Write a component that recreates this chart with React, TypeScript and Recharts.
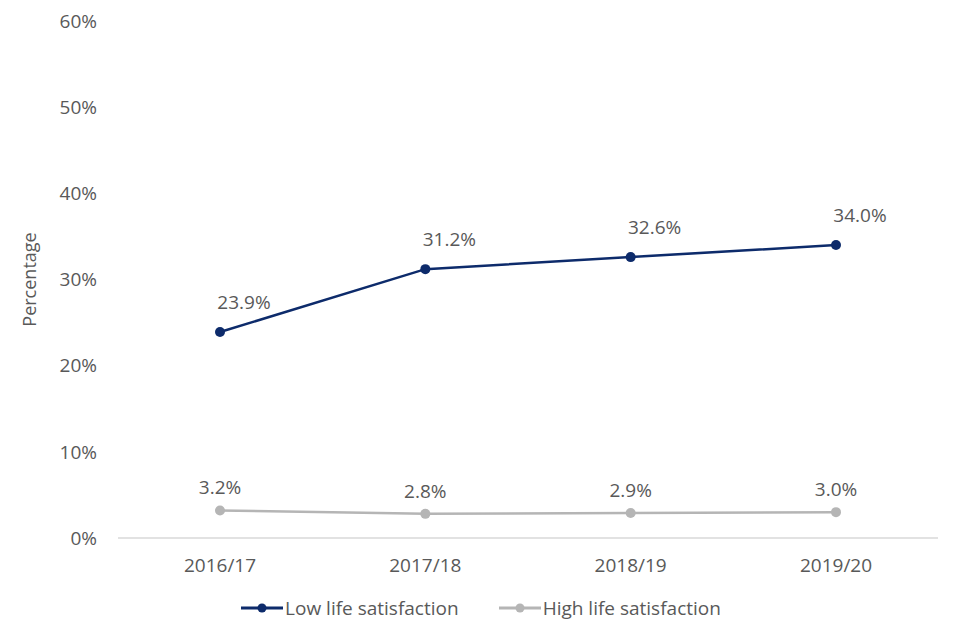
import React from 'react';
import { LineChart, Line, XAxis, YAxis, Legend, LabelList } from 'recharts';

const years = ['2016/17', '2017/18', '2018/19', '2019/20'];
const lowSatisfaction = [23.9, 31.2, 32.6, 34.0];
const highSatisfaction = [3.2, 2.8, 2.9, 3.0];
const yTicks = [0, 10, 20, 30, 40, 50, 60];

const LOW_COLOR = '#0d2b6b';
const HIGH_COLOR = '#b5b5b5';
const TEXT_COLOR = '#595959';
const FONT = '"Open Sans", "Noto Sans", sans-serif';

const data = years.map((year, i) => ({
  year,
  low: lowSatisfaction[i],
  high: highSatisfaction[i],
}));

const makeLabel = (dx: number, dy: number) => (props: any) => {
  const { x, y, value } = props;
  return (
    <text
      x={x + dx}
      y={y + dy}
      textAnchor="middle"
      fill={TEXT_COLOR}
      fontSize={19}
      fontFamily={FONT}
    >
      {Number(value).toFixed(1)}%
    </text>
  );
};

const LegendContent = () => {
  const items = [
    { name: 'Low life satisfaction', color: LOW_COLOR },
    { name: 'High life satisfaction', color: HIGH_COLOR },
  ];
  return (
    <div style={{ display: 'flex', justifyContent: 'center', gap: 40, fontFamily: FONT, fontSize: 19, color: TEXT_COLOR, paddingLeft: 24 }}>
      {items.map(item => (
        <div key={item.name} style={{ display: 'flex', alignItems: 'center' }}>
          <svg width={42} height={14}>
            <line x1={0} y1={7} x2={42} y2={7} stroke={item.color} strokeWidth={3} />
            <circle cx={21} cy={7} r={4.5} fill={item.color} />
          </svg>
          <span style={{ marginLeft: 2 }}>{item.name}</span>
        </div>
      ))}
    </div>
  );
};

export default function App() {
  return (
    <div style={{ position: 'absolute', left: 0, top: 0, background: '#fff' }}>
      <LineChart width={960} height={640} data={data} margin={{ top: 21, right: 22, left: 0, bottom: 32 }}>
        <XAxis
          dataKey="year"
          padding={{ left: 102, right: 102 }}
          tickLine={false}
          tickSize={0}
          tickMargin={21}
          axisLine={{ stroke: '#d9d9d9', strokeWidth: 1.5 }}
          tick={{ fill: TEXT_COLOR, fontSize: 19, fontFamily: FONT }}
          height={44}
        />
        <YAxis
          domain={[0, 60]}
          ticks={yTicks}
          width={118}
          axisLine={false}
          tickLine={false}
          tickSize={0}
          tickMargin={21}
          tickFormatter={(v: number) => `${v}%`}
          tick={{ fill: TEXT_COLOR, fontSize: 19, fontFamily: FONT }}
          label={{
            value: 'Percentage',
            angle: -90,
            position: 'insideLeft',
            offset: 30,
            style: { fill: TEXT_COLOR, fontSize: 18, fontFamily: FONT, textAnchor: 'middle' },
          }}
        />
        <Legend verticalAlign="bottom" content={<LegendContent />} wrapperStyle={{ bottom: 19 }} />
        <Line
          dataKey="low"
          name="Low life satisfaction"
          stroke={LOW_COLOR}
          strokeWidth={2.5}
          dot={{ r: 5, fill: LOW_COLOR, stroke: LOW_COLOR, strokeWidth: 0 }}
          isAnimationActive={false}
        >
          <LabelList dataKey="low" content={makeLabel(24, -23)} />
        </Line>
        <Line
          dataKey="high"
          name="High life satisfaction"
          stroke={HIGH_COLOR}
          strokeWidth={2.5}
          dot={{ r: 5, fill: HIGH_COLOR, stroke: HIGH_COLOR, strokeWidth: 0 }}
          isAnimationActive={false}
        >
          <LabelList dataKey="high" content={makeLabel(0, -16)} />
        </Line>
      </LineChart>
    </div>
  );
}
